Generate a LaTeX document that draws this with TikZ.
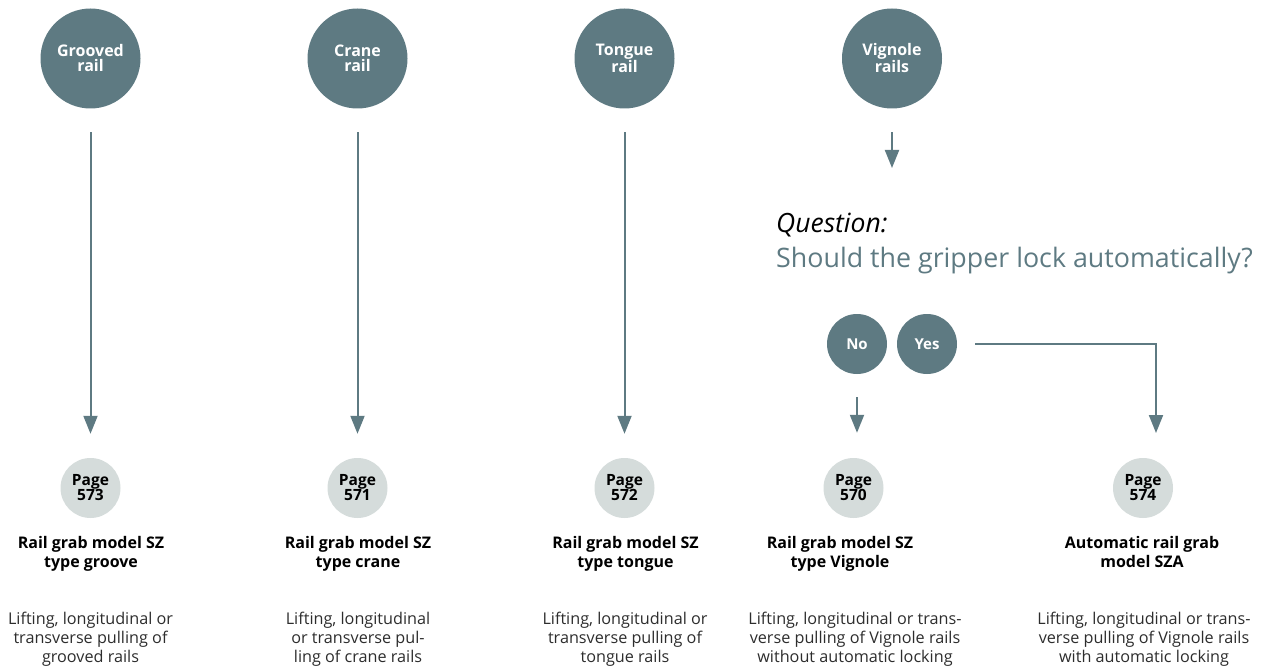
\documentclass[tikz,border=0pt]{standalone}
\usepackage{fontspec}
\setmainfont{Open Sans}
\usetikzlibrary{arrows.meta}
\definecolor{teal}{RGB}{94,122,130}
\definecolor{pagegray}{RGB}{213,220,219}
\definecolor{txt}{RGB}{45,45,45}
\tikzset{
  railcirc/.style={circle, fill=teal, minimum size=100pt, inner sep=0pt, text=white, align=center, font=\fontsize{16}{15}\selectfont\bfseries},
  pagecirc/.style={circle, fill=pagegray, minimum size=60pt, inner sep=0pt, text=black, align=center, font=\fontsize{15.5}{15}\selectfont\bfseries},
  choice/.style={circle, fill=teal, minimum size=60pt, inner sep=0pt, text=white, font=\fontsize{15}{15}\selectfont\bfseries},
  title/.style={align=center, text=black, font=\fontsize{16}{19}\selectfont\bfseries, inner sep=0pt},
  desc/.style={align=center, text=txt, font=\fontsize{16.2}{19}\selectfont, inner sep=0pt},
  arr/.style={draw=teal, line width=2pt, -{Triangle[width=14pt,length=18pt]}},
}
\begin{document}
\begin{tikzpicture}[x=1pt,y=-1pt]
\useasboundingbox (0,0) rectangle (1278,666);
% top circles
\node[railcirc] (g) at (90.5,58.5) {Grooved\\rail};
\node[railcirc] (c) at (357.5,58.5) {Crane\\rail};
\node[railcirc] (t) at (624.5,58.5) {Tongue\\rail};
\node[railcirc] (v) at (892,58.5) {Vignole\\rails};
% page circles
\node[pagecirc] (p573) at (90.5,488) {Page\\573};
\node[pagecirc] (p571) at (357.5,488) {Page\\571};
\node[pagecirc] (p572) at (624.5,488) {Page\\572};
\node[pagecirc] (p570) at (853.5,488) {Page\\570};
\node[pagecirc] (p574) at (1143,488) {Page\\574};
% arrows
\draw[arr, shorten <=23.5pt, shorten >=24pt] (g) -- (p573);
\draw[arr, shorten <=23.5pt, shorten >=24pt] (c) -- (p571);
\draw[arr, shorten <=23.5pt, shorten >=24pt] (t) -- (p572);
\coordinate (qin) at (892,168);
\draw[arr, shorten <=23.5pt] (v) -- (qin);
% question
\node[anchor=base west, inner sep=0pt, font=\fontsize{26.5}{26.5}\selectfont\itshape, text=black] (q) at (776,233) {Question:};
\node[anchor=base west, inner sep=0pt, font=\fontsize{26.8}{26.8}\selectfont, text=teal] (qt) at (776,267) {Should the gripper lock automatically?};
% choices
\node[choice] (no) at (857,344) {No};
\node[choice] (yes) at (927,344) {Yes};
\coordinate (yesend) at (1156,433);
\draw[arr, shorten <=23pt, shorten >=25pt] (no) -- (no |- p570.north);
\draw[arr, shorten <=18pt] (yes) -| (yesend);
% titles
\node[title] (t573) at (91,553.5) {Rail grab model SZ\\type groove};
\node[title] (t571) at (358,553.5) {Rail grab model SZ\\type crane};
\node[title] (t572) at (625.5,553.5) {Rail grab model SZ\\type tongue};
\node[title] (t570) at (840,553.5) {Rail grab model SZ\\type Vignole};
\node[title] (t574) at (1142,551.5) {Automatic rail grab\\model SZA};
% descriptions
\node[desc] (d573) at (90.5,639.5) {Lifting, longitudinal or\\transverse pulling of\\grooved rails};
\node[desc] (d571) at (358,639.5) {Lifting, longitudinal\\or transverse pul-\\ling of crane rails};
\node[desc] (d572) at (625,639.5) {Lifting, longitudinal or\\transverse pulling of\\tongue rails};
\node[desc] (d570) at (855,639.5) {Lifting, longitudinal or trans-\\verse pulling of Vignole rails\\without automatic locking};
\node[desc] (d574) at (1144,639.5) {Lifting, longitudinal or trans-\\verse pulling of Vignole rails\\with automatic locking};
\end{tikzpicture}
\end{document}
